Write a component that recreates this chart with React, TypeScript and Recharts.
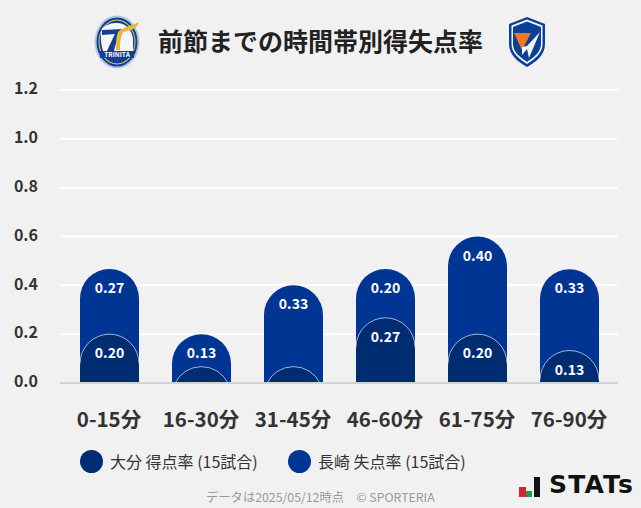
import { BarChart, Bar, XAxis, YAxis, CartesianGrid, Legend, LabelList } from "recharts";

const FONT = '"Noto Sans CJK JP", "Noto Sans", sans-serif';

const periods = ["0-15分", "16-30分", "31-45分", "46-60分", "61-75分", "76-90分"];
const oitaScored = [0.2, 0.067, 0.067, 0.267, 0.2, 0.133];
const nagasakiConceded = [0.267, 0.133, 0.333, 0.2, 0.4, 0.333];
const yTicks = [0, 0.2, 0.4, 0.6, 0.8, 1.0, 1.2];

const HOME_NAME = "大分 得点率 (15試合)";
const AWAY_NAME = "長崎 失点率 (15試合)";
const HOME_COLOR = "#002c71";
const AWAY_COLOR = "#003594";

const data = periods.map((period, i) => ({
  period,
  home: oitaScored[i],
  away: nagasakiConceded[i],
  total: oitaScored[i] + nagasakiConceded[i],
}));

// round-topped bar, the arc is cut off by the baseline when the bar is short
function capsule(x: number, y: number, w: number, h: number) {
  const r = w / 2;
  if (h >= r) {
    const arc = `M${x},${y + r} A${r},${r} 0 0 1 ${x + w},${y + r}`;
    return { arc, fill: `M${x},${y + h} L${x},${y + r} A${r},${r} 0 0 1 ${x + w},${y + r} L${x + w},${y + h} Z` };
  }
  const dx = Math.sqrt(r * r - (r - h) * (r - h));
  const cx = x + r;
  const arc = `M${cx - dx},${y + h} A${r},${r} 0 0 1 ${cx + dx},${y + h}`;
  return { arc, fill: arc + " Z" };
}

function TotalShape(props: any) {
  const { x, y, width, height } = props;
  return <path d={capsule(x, y, width, height).fill} fill={AWAY_COLOR} />;
}

function HomeShape(props: any) {
  const { x, y, width, height } = props;
  const p = capsule(x, y, width, height);
  return (
    <g>
      <path d={p.fill} fill={HOME_COLOR} />
      <path d={p.arc} fill="none" stroke="#ffffff" strokeOpacity={0.8} strokeWidth={0.8} />
    </g>
  );
}

function BarValue(props: any) {
  const { x, y, width, value } = props;
  if (value < 0.1) return null;
  return (
    <text
      x={x + width / 2}
      y={y + 18}
      textAnchor="middle"
      dominantBaseline="central"
      fill="#fff"
      fontSize={14}
      fontWeight={700}
      fontFamily={FONT}
    >
      {value.toFixed(2)}
    </text>
  );
}

function LegendRow() {
  const items = [
    { name: HOME_NAME, color: HOME_COLOR, left: 20 },
    { name: AWAY_NAME, color: AWAY_COLOR, left: 228 },
  ];
  return (
    <div style={{ position: "relative", height: 24 }}>
      {items.map((it) => (
        <div key={it.name} style={{ position: "absolute", left: it.left, top: 0, display: "flex", alignItems: "center", whiteSpace: "nowrap" }}>
          <span style={{ width: 23, height: 23, borderRadius: "50%", background: it.color, marginRight: 7 }} />
          <span style={{ fontSize: 16, color: "#333", fontFamily: FONT }}>{it.name}</span>
        </div>
      ))}
    </div>
  );
}

function OitaLogo() {
  return (
    <svg width="46" height="54" viewBox="0 0 46 54" style={{ position: "absolute", left: 94, top: 15 }}>
      <ellipse cx="23" cy="27" rx="22.5" ry="26.5" fill="#b5c6e4" />
      <ellipse cx="23" cy="27" rx="20.5" ry="24.5" fill="#123f95" />
      <ellipse cx="23" cy="27" rx="18.5" ry="22.5" fill="#e3c65a" />
      <ellipse cx="23" cy="27" rx="17.5" ry="21.5" fill="#123f95" />
      <path d="M8 14 C12 9 18 8 23 8 C32 8 38 15 39 24 L39 36 L9 36 C7 30 6 20 8 14 Z" fill="#f4f6fa" />
      <path d="M8 15 L29 14 C24 20 22 28 20 36 L13 36 C16 29 19 23 21 19 L8 20 Z" fill="#123f95" />
      <path d="M24 17 C30 11 38 11 45 7 C43 14 35 16 29 17 C26 23 26 29 26 35 L22 35 C22 28 22 22 24 17 Z" fill="#e9b93a" />
      <rect x="6" y="36" width="34" height="7" fill="#123f95" />
      <text x="23" y="42" textAnchor="middle" fontSize="6.5" fontWeight="700" fill="#fff" fontFamily={FONT}>TRINITA</text>
    </svg>
  );
}

function VarenLogo() {
  return (
    <svg width="38" height="50" viewBox="0 0 38 50" style={{ position: "absolute", left: 508, top: 17 }}>
      <path d="M19 0 L37 7 L37 27 C37 38 28 45 19 50 C10 45 1 38 1 27 L1 7 Z" fill="#0b3f98" />
      <path d="M19 2.5 L34.5 8.5 L34.5 27 C34.5 36 27 42 19 47 C11 42 3.5 36 3.5 27 L3.5 8.5 Z" fill="#f4f6fa" />
      <path d="M19 4.5 L33 10 L33 27 C33 35 26 40 19 45 C12 40 5 35 5 27 L5 10 Z" fill="#0b3f98" />
      <path d="M6 16 L23 16 L14 33 Z" fill="#ee7a1c" />
      <path d="M32 15 L21 41 L19 32 L14 38 L14 30 L19 29 Z" fill="#f4f6fa" />
    </svg>
  );
}

function StatsLogo() {
  return (
    <div style={{ position: "absolute", left: 519, top: 476, width: 120, height: 24 }}>
      <span style={{ position: "absolute", left: 0, top: 11, width: 7, height: 10, background: "#d9232e" }} />
      <span style={{ position: "absolute", left: 7, top: 15, width: 6, height: 6, background: "#12a150" }} />
      <span style={{ position: "absolute", left: 15, top: 1, width: 6, height: 20, background: "#111" }} />
      <span style={{ position: "absolute", left: 30, top: -6, fontSize: 25, fontWeight: 700, letterSpacing: 1.2, color: "#111", fontFamily: '"DejaVu Sans", sans-serif' }}>
        STATs
      </span>
    </div>
  );
}

export default function App() {
  return (
    <div style={{ position: "absolute", left: 0, top: 0, width: 641, height: 508, background: "#f1f1f1", overflow: "hidden" }}>
      <OitaLogo />
      <VarenLogo />
      <div style={{ position: "absolute", left: 158, top: 21, fontSize: 25, fontWeight: 700, color: "#222", fontFamily: FONT, whiteSpace: "nowrap", lineHeight: "38px" }}>
        前節までの時間帯別得失点率
      </div>

      <BarChart
        width={641}
        height={508}
        data={data}
        margin={{ top: 90, right: 23, bottom: 0, left: 0 }}
        barSize={59}
        barGap={-59}
      >
        <CartesianGrid vertical={false} stroke="#ffffff" strokeWidth={2} />
        <XAxis
          dataKey="period"
          height={101}
          interval={0}
          padding={{ left: 3, right: 3 }}
          axisLine={{ stroke: "#d2d2d2", strokeWidth: 2 }}
          tickLine={false}
          tickMargin={23}
          tick={{ fontSize: 20.5, fontWeight: 700, fill: "#333", fontFamily: FONT }}
        />
        <YAxis
          width={60}
          domain={[0, 1.2]}
          ticks={yTicks}
          axisLine={false}
          tickLine={false}
          tickMargin={16}
          tickFormatter={(v: number) => v.toFixed(1)}
          tick={{ fontSize: 16, fontWeight: 700, fill: "#333", fontFamily: FONT, dy: -1.5 }}
        />
        <Legend
          verticalAlign="bottom"
          align="left"
          content={<LegendRow />}
          wrapperStyle={{ left: 60, top: 449, bottom: "auto", width: 500 }}
        />
        <Bar dataKey="total" name={AWAY_NAME} fill={AWAY_COLOR} shape={<TotalShape />} isAnimationActive={false}>
          <LabelList dataKey="away" content={<BarValue />} />
        </Bar>
        <Bar dataKey="home" name={HOME_NAME} fill={HOME_COLOR} shape={<HomeShape />} isAnimationActive={false}>
          <LabelList dataKey="home" content={<BarValue />} />
        </Bar>
      </BarChart>

      <div style={{ position: "absolute", left: 206, top: 488, fontSize: 12.3, color: "#999", fontFamily: FONT, whiteSpace: "nowrap", lineHeight: "18px" }}>
        データは2025/05/12時点　© SPORTERIA
      </div>
      <StatsLogo />
    </div>
  );
}
